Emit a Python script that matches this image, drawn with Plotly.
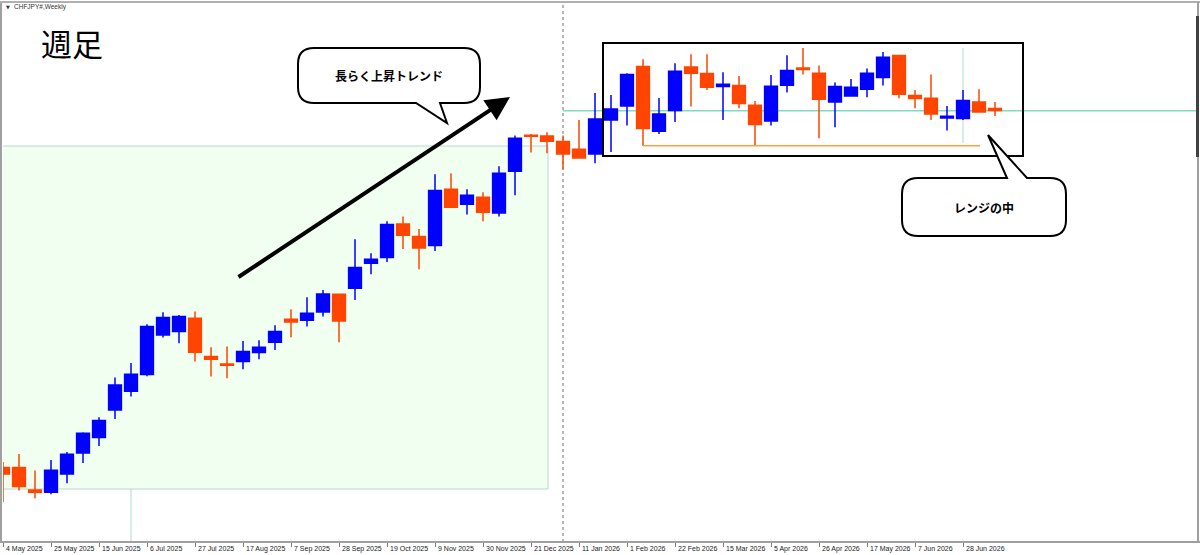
import numpy as np
import pandas as pd
import plotly.graph_objects as go

# ---------------- data ----------------
weeks = pd.date_range("2025-05-04", periods=63, freq="7D")

opens = [177.12, 177.12, 176.00, 175.89, 176.80, 177.85, 178.62, 180.00, 180.94, 181.77,
         183.75, 183.92, 184.59, 182.67, 182.30, 182.42, 182.87, 183.39, 184.54, 184.49,
         184.90, 185.79, 186.09, 187.34, 187.62, 189.30, 188.67, 188.22, 191.04, 190.29,
         190.64, 189.85, 191.94, 193.74, 193.70, 193.42, 193.04, 192.80, 194.50, 195.20,
         197.17, 193.94, 194.97, 197.15, 196.82, 196.17, 196.22, 195.24, 194.45, 196.24,
         197.10, 196.84, 195.40, 195.70, 196.04, 196.62, 197.72, 195.72, 195.59, 194.60,
         194.57, 195.40, 195.07]
highs = [177.40, 177.80, 176.97, 177.50, 177.90, 178.89, 179.64, 181.62, 182.35, 184.29,
         184.89, 184.75, 184.92, 183.14, 183.17, 183.45, 183.49, 184.24, 185.04, 185.64,
         186.00, 185.79, 188.54, 187.84, 189.44, 189.67, 189.05, 191.79, 191.84, 191.04,
         190.89, 192.19, 193.72, 193.80, 193.89, 193.72, 194.50, 195.85, 195.75, 196.84,
         197.54, 195.60, 197.34, 197.79, 197.79, 196.89, 196.70, 195.45, 196.75, 197.74,
         198.10, 197.22, 196.37, 196.55, 197.07, 197.90, 197.75, 196.00, 196.77, 195.20,
         196.00, 196.04, 195.40]
lows = [175.40, 175.97, 175.59, 175.79, 176.34, 177.35, 178.20, 179.55, 180.67, 181.69,
        183.62, 183.34, 182.42, 181.67, 181.59, 182.04, 182.54, 183.00, 183.64, 184.17,
        184.67, 183.39, 185.50, 186.79, 187.40, 188.05, 187.04, 187.95, 190.14, 189.77,
        189.44, 189.67, 190.74, 192.87, 192.84, 192.04, 192.60, 192.34, 192.90, 194.22,
        193.20, 193.80, 194.40, 195.17, 196.00, 194.50, 195.09, 193.20, 194.22, 195.87,
        196.77, 193.59, 194.14, 195.70, 195.64, 196.22, 195.59, 195.09, 194.50, 193.97,
        194.50, 194.87, 194.70]
closes = [176.80, 176.17, 175.89, 176.99, 177.79, 178.84, 179.47, 181.25, 181.79, 184.17,
          184.62, 184.67, 182.89, 182.54, 182.24, 182.92, 183.14, 183.92, 184.40, 184.84,
          185.80, 184.45, 187.12, 187.54, 189.27, 188.74, 188.10, 190.97, 190.14, 190.74,
          189.89, 191.84, 193.59, 193.69, 193.44, 192.80, 192.60, 194.55, 195.05, 196.77,
          194.07, 194.80, 196.94, 196.84, 196.14, 196.29, 195.32, 194.27, 196.19, 196.97,
          197.02, 195.54, 196.17, 196.14, 196.84, 197.64, 195.79, 195.57, 194.80, 194.69,
          195.47, 194.90, 194.97]

tick_labels = ["4 May 2025", "25 May 2025", "15 Jun 2025", "6 Jul 2025", "27 Jul 2025",
               "17 Aug 2025", "7 Sep 2025", "28 Sep 2025", "19 Oct 2025", "9 Nov 2025",
               "30 Nov 2025", "21 Dec 2025", "11 Jan 2026", "1 Feb 2026", "22 Feb 2026",
               "15 Mar 2026", "5 Apr 2026", "26 Apr 2026", "17 May 2026", "7 Jun 2026",
               "28 Jun 2026"]

title_text = "週足"
symbol_text = "CHFJPY#,Weekly"
callout1_text = "長らく上昇トレンド"
callout2_text = "レンジの中"

# ---------------- geometry helpers ----------------
W, H = 1200, 555
ML, MR, MT, MB = 3, 3, 3, 13
PW, PH = W - ML - MR, H - MT - MB
PX_PER_WEEK = 16.0
Y_TOP, Y_BOT = 200.35, 173.4


def xd(px):  # pixel -> week index (data)
    return (px - ML) / PX_PER_WEEK


def yd(py):  # pixel -> price (data)
    return Y_TOP - (py - MT) * (Y_TOP - Y_BOT) / PH


def xp(px):  # pixel -> paper
    return (px - ML) / PW


def yp(py):  # pixel -> paper
    return (MT + PH - py) / PH


x = np.arange(len(weeks))
week_index = {d: i for i, d in enumerate(weeks)}
tick_pos = [week_index[pd.Timestamp(pd.to_datetime(t, format="%d %b %Y"))] for t in tick_labels]

BLUE = "#0000FF"
ORANGE = "#FF4500"

fig = go.Figure()
fig.add_trace(go.Candlestick(
    x=x, open=opens, high=highs, low=lows, close=closes,
    text=[d.strftime("%Y-%m-%d") for d in weeks],
    increasing=dict(line=dict(color=BLUE, width=1.5), fillcolor=BLUE),
    decreasing=dict(line=dict(color=ORANGE, width=1.5), fillcolor=ORANGE),
    whiskerwidth=0, showlegend=False,
))

shapes = []
# green background rectangle
shapes.append(dict(type="rect", xref="x", yref="y", x0=xd(0), x1=xd(548), y0=yd(489), y1=yd(146),
                   fillcolor="#F0FFF0", line=dict(color="#B8D8D0", width=1), layer="below"))
# thin vertical lines
shapes.append(dict(type="line", xref="x", yref="y", x0=8, x1=8, y0=yd(489), y1=Y_BOT,
                   line=dict(color="#A8DCCC", width=1), layer="below"))
shapes.append(dict(type="line", xref="x", yref="y", x0=60, x1=60, y0=yd(48), y1=yd(143),
                   line=dict(color="#A8DCCC", width=1), layer="below"))
# period separator (dotted)
shapes.append(dict(type="line", xref="x", yref="paper", x0=35, x1=35, y0=0, y1=1,
                   line=dict(color="#707070", width=1, dash="dot"), layer="below"))
# teal horizontal line
shapes.append(dict(type="line", xref="x", yref="y", x0=35, x1=xd(1197), y0=yd(110.7), y1=yd(110.7),
                   line=dict(color="#80DCC0", width=1.5), layer="below"))
# orange support line
shapes.append(dict(type="line", xref="x", yref="y", x0=40, x1=xd(980), y0=yd(145.7), y1=yd(145.7),
                   line=dict(color="#FFA040", width=1.5)))
# black range rectangle
shapes.append(dict(type="rect", xref="x", yref="y", x0=xd(603), x1=xd(1023), y0=yd(156), y1=yd(43),
                   line=dict(color="black", width=2), fillcolor="rgba(0,0,0,0)"))


def bubble(L, T, R, B, r, tail, where):
    P = lambda a, b: f"{xp(a):.5f},{yp(b):.5f}"
    if where == "bottom":
        (b1, tip, b2) = tail  # b1 right base x, tip (x,y), b2 left base x
        path = (f"M{P(L + r, T)} L{P(R - r, T)} Q{P(R, T)} {P(R, T + r)} L{P(R, B - r)} "
                f"Q{P(R, B)} {P(R - r, B)} L{P(b1, B)} L{P(*tip)} L{P(b2, B)} L{P(L + r, B)} "
                f"Q{P(L, B)} {P(L, B - r)} L{P(L, T + r)} Q{P(L, T)} {P(L + r, T)} Z")
    else:
        (b1, tip, b2) = tail  # b1 left base x, tip, b2 right base x
        path = (f"M{P(L + r, T)} L{P(b1, T)} L{P(*tip)} L{P(b2, T)} L{P(R - r, T)} "
                f"Q{P(R, T)} {P(R, T + r)} L{P(R, B - r)} Q{P(R, B)} {P(R - r, B)} "
                f"L{P(L + r, B)} Q{P(L, B)} {P(L, B - r)} L{P(L, T + r)} Q{P(L, T)} {P(L + r, T)} Z")
    return dict(type="path", xref="paper", yref="paper", path=path,
                fillcolor="white", line=dict(color="black", width=2))


shapes.append(bubble(298, 48, 480, 103, 16, (440, (447, 123), 416), "bottom"))
shapes.append(bubble(902, 178, 1066, 236, 16, (1007, (988, 135), 1027), "top"))

# frame
shapes.append(dict(type="line", xref="paper", yref="paper", x0=xp(1), x1=xp(1), y0=yp(2), y1=yp(542),
                   line=dict(color="#A0A0A0", width=2)))
shapes.append(dict(type="line", xref="paper", yref="paper", x0=xp(0), x1=xp(1200), y0=yp(2), y1=yp(2),
                   line=dict(color="#B0B0B0", width=2)))
shapes.append(dict(type="line", xref="paper", yref="paper", x0=xp(0), x1=xp(1200), y0=yp(542), y1=yp(542),
                   line=dict(color="#A0A0A0", width=2)))
shapes.append(dict(type="line", xref="paper", yref="paper", x0=xp(1198), x1=xp(1198), y0=yp(2), y1=yp(542),
                   line=dict(color="#A0A0A0", width=2)))
shapes.append(dict(type="line", xref="paper", yref="paper", x0=xp(1197.5), x1=xp(1197.5), y0=yp(16), y1=yp(157),
                   line=dict(color="#404040", width=3)))

annotations = []
for pos, lab in zip(tick_pos, tick_labels):
    annotations.append(dict(x=pos, y=0, xref="x", yref="paper", text=lab, showarrow=False,
                            xanchor="left", yanchor="top", xshift=1, yshift=-1,
                            font=dict(family="Liberation Sans", size=7, color="#222")))
# trend arrow
annotations.append(dict(x=xd(510), y=yd(97), ax=xd(237), ay=yd(278), xref="x", yref="y",
                        axref="x", ayref="y", text="", showarrow=True, arrowhead=2,
                        arrowsize=1.2, arrowwidth=4, arrowcolor="black", standoff=0, startstandoff=0))
annotations.append(dict(x=xp(389), y=yp(75), xref="paper", yref="paper", text=f"<b>{callout1_text}</b>",
                        showarrow=False, xanchor="center", yanchor="middle",
                        font=dict(family="Noto Sans CJK JP", size=12, color="black")))
annotations.append(dict(x=xp(984), y=yp(207), xref="paper", yref="paper", text=f"<b>{callout2_text}</b>",
                        showarrow=False, xanchor="center", yanchor="middle",
                        font=dict(family="Noto Sans CJK JP", size=12, color="black")))
annotations.append(dict(x=xp(39), y=yp(42), xref="paper", yref="paper", text=title_text,
                        showarrow=False, xanchor="left", yanchor="middle",
                        font=dict(family="Noto Sans CJK JP", size=31, color="black")))
annotations.append(dict(x=xp(4), y=yp(7), xref="paper", yref="paper", text="▼",
                        showarrow=False, xanchor="left", yanchor="middle",
                        font=dict(family="DejaVu Sans", size=5, color="#333")))
annotations.append(dict(x=xp(12), y=yp(7), xref="paper", yref="paper", text=symbol_text,
                        showarrow=False, xanchor="left", yanchor="middle",
                        font=dict(family="Liberation Sans", size=6.5, color="#333")))

fig.update_layout(
    width=W, height=H, margin=dict(l=ML, r=MR, t=MT, b=MB),
    paper_bgcolor="white", plot_bgcolor="white", showlegend=False,
    boxgap=0.2, boxgroupgap=0,
    xaxis=dict(range=[0, PW / PX_PER_WEEK], showgrid=False, zeroline=False, showline=False,
               tickvals=tick_pos, ticks="outside", ticklen=4, tickcolor="#808080",
               showticklabels=False, rangeslider=dict(visible=False)),
    yaxis=dict(range=[Y_BOT, Y_TOP], showgrid=False, zeroline=False, showline=False,
               showticklabels=False, ticks=""),
    shapes=shapes, annotations=annotations,
)

fig.write_html("out.html")
